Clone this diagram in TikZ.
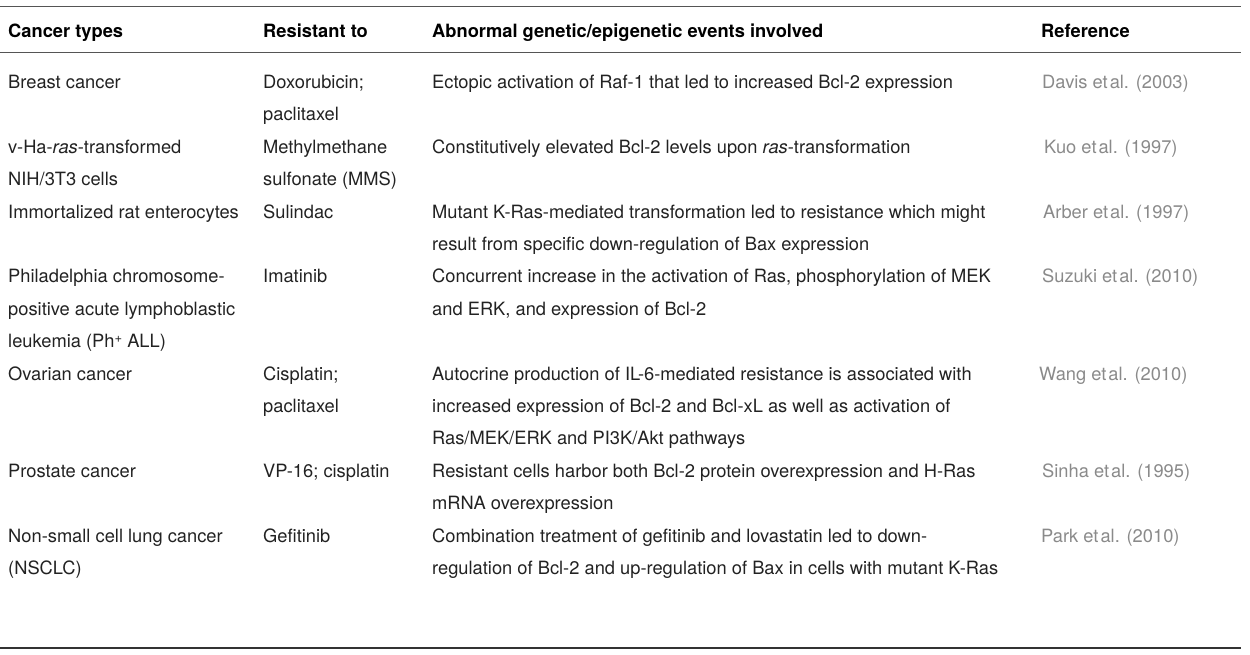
\documentclass[tikz,border=0pt]{standalone}
\usepackage{fontspec}
\setmainfont{TeX Gyre Heros}
\definecolor{refgray}{HTML}{8A8A8A}
\definecolor{rulegray}{HTML}{555555}
\definecolor{txt}{HTML}{222222}
\newcommand{\rowy}[1]{88.5+32.4*#1}
\newcommand{\supplus}{\raisebox{0.55ex}{\fontsize{13}{13}\selectfont +}}
\begin{document}
\begin{tikzpicture}[x=1pt,y=-1pt,
  cell/.style={anchor=base west,inner sep=0pt,text=txt,font=\fontsize{18.3}{32.4}\selectfont},
  head/.style={cell,text=black,font=\fontsize{18.3}{32.4}\selectfont\bfseries},
  refcell/.style={cell,text=refgray}]
\useasboundingbox (0,0) rectangle (1250,655);
% rules
\draw[rulegray,line width=1.4pt] (0,6.5) -- (1241,6.5);
\draw[rulegray,line width=1.4pt] (0,52.5) -- (1241,52.5);
\draw[black!80,line width=2pt] (0,648) -- (1241,648);
% header
\node[head] (h1) at (8,37.5) {Cancer types};
\node[head] (h2) at (263,37.5) {Resistant to};
\node[head] (h3) at (432,37.5) {Abnormal genetic/epigenetic events involved};
\node[head] (h4) at (1041,37.5) {Reference};
% row 1
\node[cell] (a1) at (8,{\rowy{0}}) {\vtop{\hbox{Breast cancer}}};
\node[cell] (b1) at (263,{\rowy{0}}) {\vtop{\hbox{Doxorubicin;}\hbox{paclitaxel}}};
\node[cell] (c1) at (432,{\rowy{0}}) {\vtop{\hbox{Ectopic activation of Raf-1 that led to increased Bcl-2 expression}}};
\node[refcell] (d1) at (1042,{\rowy{0}}) {Davis et\kern2pt al. (2003)};
% row 2
\node[cell] (a2) at (8,{\rowy{2}}) {\vtop{\hbox{v-Ha-\textit{ras}-transformed}\hbox{NIH/3T3 cells}}};
\node[cell] (b2) at (263,{\rowy{2}}) {\vtop{\hbox{Methylmethane}\hbox{sulfonate (MMS)}}};
\node[cell] (c2) at (432,{\rowy{2}}) {\vtop{\hbox{Constitutively elevated Bcl-2 levels upon \textit{ras}-transformation}}};
\node[refcell] (d2) at (1044,{\rowy{2}}) {Kuo et\kern2pt al. (1997)};
% row 3
\node[cell] (a3) at (8,{\rowy{4}}) {\vtop{\hbox{Immortalized rat enterocytes}}};
\node[cell] (b3) at (263,{\rowy{4}}) {\vtop{\hbox{Sulindac}}};
\node[cell] (c3) at (432,{\rowy{4}}) {\vtop{\hbox{Mutant K-Ras-mediated transformation led to resistance which might}\hbox{result from specific down-regulation of Bax expression}}};
\node[refcell] (d3) at (1043,{\rowy{4}}) {Arber et\kern2pt al. (1997)};
% row 4
\node[cell] (a4) at (8,{\rowy{6}}) {\vtop{\hbox{Philadelphia chromosome-}\hbox{positive acute lymphoblastic}\hbox{leukemia (Ph\supplus\ ALL)}}};
\node[cell] (b4) at (263,{\rowy{6}}) {\vtop{\hbox{Imatinib}}};
\node[cell] (c4) at (432,{\rowy{6}}) {\vtop{\hbox{Concurrent increase in the activation of Ras, phosphorylation of MEK}\hbox{and ERK, and expression of Bcl-2}}};
\node[refcell] (d4) at (1042,{\rowy{6}}) {Suzuki et\kern2pt al. (2010)};
% row 5
\node[cell] (a5) at (8,{\rowy{9}}) {\vtop{\hbox{Ovarian cancer}}};
\node[cell] (b5) at (263,{\rowy{9}}) {\vtop{\hbox{Cisplatin;}\hbox{paclitaxel}}};
\node[cell] (c5) at (432,{\rowy{9}}) {\vtop{\hbox{Autocrine production of IL-6-mediated resistance is associated with}\hbox{increased expression of Bcl-2 and Bcl-xL as well as activation of}\hbox{Ras/MEK/ERK and PI3K/Akt pathways}}};
\node[refcell] (d5) at (1039,{\rowy{9}}) {Wang et\kern2pt al. (2010)};
% row 6
\node[cell] (a6) at (8,{\rowy{12}}) {\vtop{\hbox{Prostate cancer}}};
\node[cell] (b6) at (263,{\rowy{12}}) {\vtop{\hbox{VP-16; cisplatin}}};
\node[cell] (c6) at (432,{\rowy{12}}) {\vtop{\hbox{Resistant cells harbor both Bcl-2 protein overexpression and H-Ras}\hbox{mRNA overexpression}}};
\node[refcell] (d6) at (1042,{\rowy{12}}) {Sinha et\kern2pt al. (1995)};
% row 7
\node[cell] (a7) at (8,{\rowy{14}}) {\vtop{\hbox{Non-small cell lung cancer}\hbox{(NSCLC)}}};
\node[cell] (b7) at (263,{\rowy{14}}) {\vtop{\hbox{Gefitinib}}};
\node[cell] (c7) at (432,{\rowy{14}}) {\vtop{\hbox{Combination treatment of gefitinib and lovastatin led to down-}\hbox{regulation of Bcl-2 and up-regulation of Bax in cells with mutant K-Ras}}};
\node[refcell] (d7) at (1041,{\rowy{14}}) {Park et\kern2pt al. (2010)};
\end{tikzpicture}
\end{document}
